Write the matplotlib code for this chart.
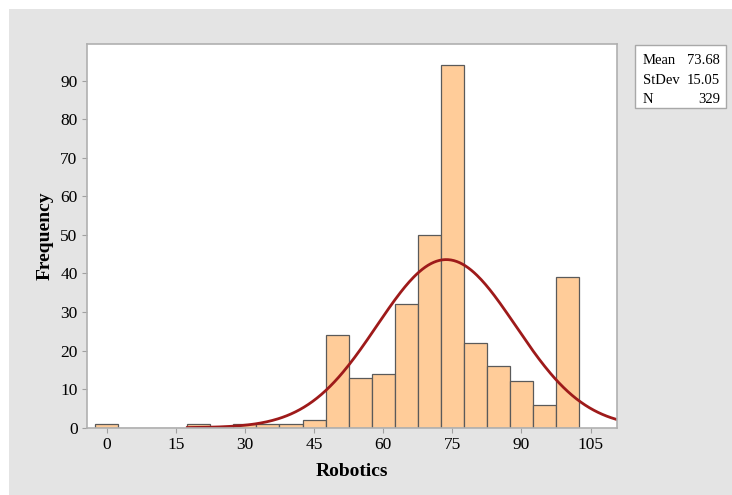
import numpy as np
import matplotlib.pyplot as plt
from matplotlib.patches import Rectangle

# bin centres (width 5) and counts
bin_centers = [0, 5, 10, 15, 20, 25, 30, 35, 40, 45, 50, 55, 60, 65, 70, 75, 80, 85, 90, 95, 100]
counts = [1, 0, 0, 0, 1, 0, 1, 1, 1, 2, 24, 13, 14, 32, 50, 94, 22, 16, 12, 6, 39]
bin_width = 5
mean, stdev, n = 73.68, 15.05, 329
x_ticks = [0, 15, 30, 45, 60, 75, 90, 105]
y_ticks = [0, 10, 20, 30, 40, 50, 60, 70, 80, 90]

plt.rcParams['font.family'] = ['Liberation Serif', 'DejaVu Serif']

fig = plt.figure(figsize=(7.32, 4.95), dpi=100, facecolor='white')
# gray background panel
fig.patches.append(Rectangle((9 / 732, 0), 1, 1 - 9 / 495, transform=fig.transFigure,
                             facecolor='#e4e4e4', edgecolor='none', zorder=-1))

ax = fig.add_axes([87.3 / 732, 1 - 427.7 / 495, 530 / 732, 384 / 495])
ax.set_facecolor('white')

ax.bar(bin_centers, counts, width=bin_width, color='#ffcc99', edgecolor='#5a5a5a', linewidth=0.9)

xs = np.linspace(17.5, 111, 300)
ys = n * bin_width * np.exp(-0.5 * ((xs - mean) / stdev) ** 2) / (stdev * np.sqrt(2 * np.pi))
ax.plot(xs, ys, color='#9e1a1a', linewidth=2.0)

ax.set_xlim(-4.2, 110.8)
ax.set_ylim(0, 99.6)
ax.set_xticks(x_ticks)
ax.set_yticks(y_ticks)
ax.tick_params(colors='#a0a0a0', labelcolor='black', labelsize=12.5, length=3.5, width=0.8)
for s in ax.spines.values():
    s.set_color('#b0b0b0')
    s.set_linewidth(1.2)

ax.set_xlabel('Robotics', fontsize=14, fontweight='bold', labelpad=7)
ax.set_ylabel('Frequency', fontsize=14, fontweight='bold', labelpad=5)

# stats box
fig.patches.append(Rectangle((634.7 / 732, 1 - 108 / 495), 91.5 / 732, 63.3 / 495,
                             transform=fig.transFigure, facecolor='white',
                             edgecolor='#a8a8a8', linewidth=1))
rows = [('Mean', '73.68'), ('StDev', '15.05'), ('N', '329')]
for i, (k, v) in enumerate(rows):
    yy = 1 - (60.5 + i * 19.7) / 495
    fig.text(642.5 / 732, yy, k, fontsize=10.5, va='center', ha='left')
    fig.text(720 / 732, yy, v, fontsize=10.5, va='center', ha='right')

fig.savefig('out.png', dpi=100)
